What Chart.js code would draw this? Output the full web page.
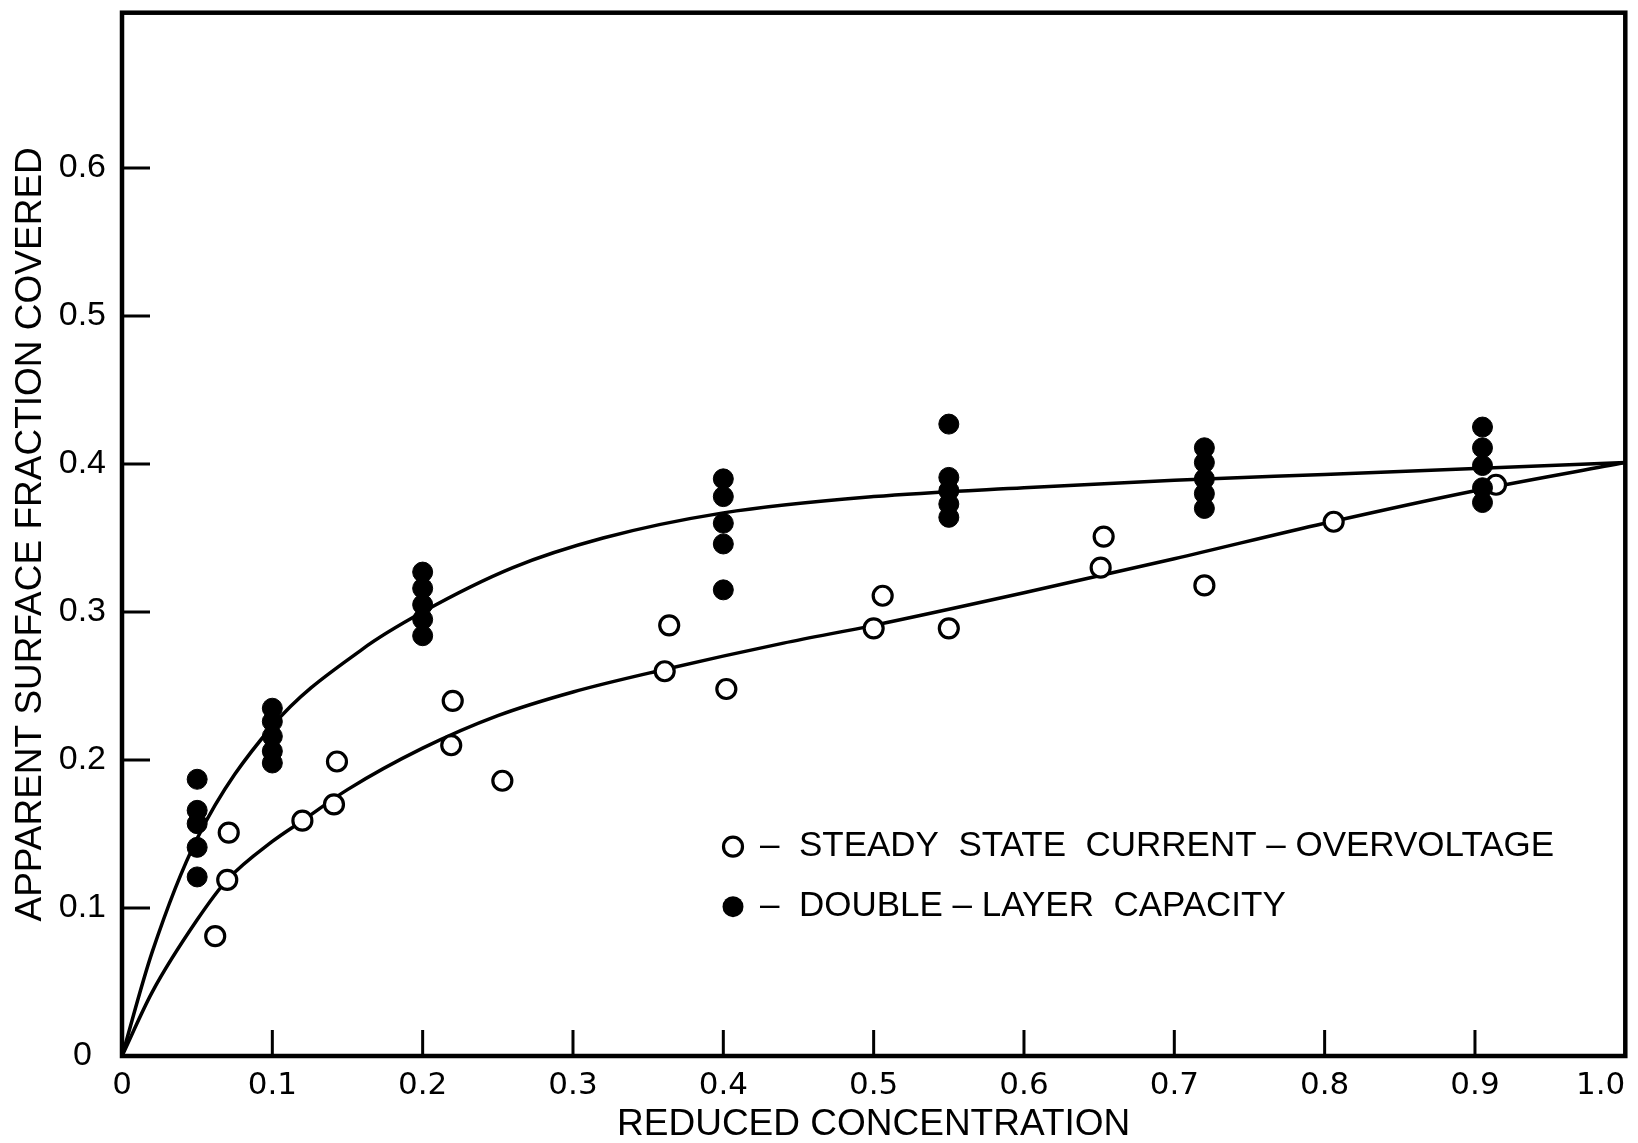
<!DOCTYPE html>
<html>
<head>
<meta charset="utf-8">
<title>Apparent surface fraction covered</title>
<script src="https://cdn.jsdelivr.net/npm/chart.js@4.4.1/dist/chart.umd.min.js"></script>
<style>
  html, body { margin: 0; padding: 0; background: #fff; }
  #wrap { width: 1638px; height: 1143px; position: relative; }
</style>
</head>
<body>
<div id="wrap"><canvas id="chart"></canvas></div>
<script>
// measured points - steady state current-overvoltage (open circles)
const openX = [0.062, 0.070, 0.071, 0.120, 0.141, 0.143, 0.219, 0.220, 0.253, 0.361, 0.364, 0.402, 0.500, 0.506, 0.550, 0.651, 0.653, 0.720, 0.806, 0.914];
const openY = [0.081, 0.119, 0.151, 0.159, 0.170, 0.199, 0.210, 0.240, 0.186, 0.260, 0.291, 0.248, 0.289, 0.311, 0.289, 0.330, 0.351, 0.318, 0.361, 0.386];

// measured points - double-layer capacity (filled circles)
const filledX = [0.05, 0.05, 0.05, 0.05, 0.05,
                 0.10, 0.10, 0.10, 0.10, 0.10,
                 0.20, 0.20, 0.20, 0.20, 0.20,
                 0.40, 0.40, 0.40, 0.40, 0.40,
                 0.55, 0.55, 0.55, 0.55, 0.55,
                 0.72, 0.72, 0.72, 0.72, 0.72,
                 0.905, 0.905, 0.905, 0.905, 0.905];
const filledY = [0.187, 0.166, 0.157, 0.141, 0.121,
                 0.235, 0.226, 0.216, 0.206, 0.198,
                 0.327, 0.316, 0.305, 0.295, 0.284,
                 0.390, 0.378, 0.360, 0.346, 0.315,
                 0.427, 0.391, 0.382, 0.373, 0.364,
                 0.411, 0.401, 0.390, 0.380, 0.370,
                 0.425, 0.411, 0.399, 0.384, 0.374];

// drawn curves
const upperCurveX = [0, 0.02, 0.05, 0.10, 0.16, 0.20, 0.26, 0.32, 0.40, 0.50, 0.60, 0.70, 0.80, 0.90, 1.0];
const upperCurveY = [0, 0.070, 0.147, 0.223, 0.275, 0.300, 0.330, 0.350, 0.367, 0.378, 0.384, 0.389, 0.393, 0.397, 0.401];
const lowerCurveX = [0, 0.02, 0.05, 0.07, 0.10, 0.12, 0.15, 0.20, 0.25, 0.30, 0.36, 0.44, 0.50, 0.60, 0.70, 0.80, 0.90, 1.0];
const lowerCurveY = [0, 0.043, 0.092, 0.119, 0.145, 0.159, 0.180, 0.208, 0.230, 0.246, 0.261, 0.279, 0.291, 0.313, 0.336, 0.360, 0.382, 0.401];

// tick labels
const xTickLabels = ['0', '0.1', '0.2', '0.3', '0.4', '0.5', '0.6', '0.7', '0.8', '0.9', '1.0'];
const yTickLabels = ['0', '0.1', '0.2', '0.3', '0.4', '0.5', '0.6', ''];

const legendLabels = ['\u2013  STEADY  STATE  CURRENT \u2013 OVERVOLTAGE', '\u2013  DOUBLE \u2013 LAYER  CAPACITY'];

function toPoints(xs, ys) {
  return xs.map((x, i) => ({ x: x, y: ys[i] }));
}

// box, inward ticks, x labels and the legend
const paperPlugin = {
  id: 'paper',
  afterDatasetsDraw(chart) {
    const { ctx, chartArea: a, scales } = chart;
    const xs = scales.x, ys = scales.y;
    ctx.save();
    ctx.strokeStyle = '#000';
    ctx.fillStyle = '#000';
    ctx.lineWidth = 4.5;
    ctx.strokeRect(a.left, a.top, a.right - a.left, a.bottom - a.top);

    ctx.lineWidth = 3;
    ctx.beginPath();
    xs.ticks.forEach(t => {
      if (t.value > 0.05 && t.value < 0.95) {
        const px = xs.getPixelForValue(t.value);
        ctx.moveTo(px, a.bottom);
        ctx.lineTo(px, a.bottom - 26);
      }
    });
    ys.ticks.forEach(t => {
      if (t.value > 0.05 && t.value < 0.65) {
        const py = ys.getPixelForValue(t.value);
        ctx.moveTo(a.left, py);
        ctx.lineTo(a.left + 28, py);
      }
    });
    ctx.stroke();

    // x tick labels, last one kept inside the frame
    ctx.font = '31px "DejaVu Sans"';
    ctx.textBaseline = 'middle';
    xs.ticks.forEach((t, i) => {
      ctx.textAlign = i === xs.ticks.length - 1 ? 'right' : 'center';
      ctx.fillText(xTickLabels[i] || '', xs.getPixelForValue(t.value), a.bottom + 30);
    });

    // legend
    const lx = a.left + 611;
    const ly = [a.top + 834, a.top + 894];
    ctx.lineWidth = 3.2;
    ctx.beginPath();
    ctx.arc(lx, ly[0], 9.5, 0, Math.PI * 2);
    ctx.stroke();
    ctx.beginPath();
    ctx.arc(lx, ly[1], 10.5, 0, Math.PI * 2);
    ctx.fill();
    ctx.font = '35px "Liberation Sans"';
    ctx.textAlign = 'left';
    ctx.fillText(legendLabels[0], lx + 27, ly[0]);
    ctx.fillText(legendLabels[1], lx + 27, ly[1]);
    ctx.restore();
  }
};

document.addEventListener('DOMContentLoaded', function () {
  const ctx = document.getElementById('chart').getContext('2d');
  new Chart(ctx, {
    type: 'scatter',
    data: {
      datasets: [
        {
          label: 'Double-layer capacity',
          data: toPoints(filledX, filledY),
          pointRadius: 10,
          pointBackgroundColor: '#000',
          pointBorderColor: '#000',
          pointBorderWidth: 1,
          order: 0
        },
        {
          label: 'Steady state current-overvoltage',
          data: toPoints(openX, openY),
          pointRadius: 9.5,
          pointBackgroundColor: '#fff',
          pointBorderColor: '#000',
          pointBorderWidth: 3.2,
          order: 1
        },
        {
          label: 'upper curve',
          data: toPoints(upperCurveX, upperCurveY),
          showLine: true,
          borderColor: '#000',
          borderWidth: 3.5,
          pointRadius: 0,
          cubicInterpolationMode: 'monotone',
          order: 2
        },
        {
          label: 'lower curve',
          data: toPoints(lowerCurveX, lowerCurveY),
          showLine: true,
          borderColor: '#000',
          borderWidth: 3.5,
          pointRadius: 0,
          cubicInterpolationMode: 'monotone',
          order: 3
        }
      ]
    },
    options: {
      responsive: true,
      maintainAspectRatio: false,
      animation: false,
      layout: { padding: { left: 0, top: 12, right: 6, bottom: 0 } },
      plugins: {
        legend: { display: false },
        tooltip: { enabled: false }
      },
      scales: {
        x: {
          type: 'linear',
          min: 0,
          max: 1,
          grid: { display: false, drawTicks: false },
          border: { display: false },
          ticks: { display: false, stepSize: 0.1 },
          title: {
            display: true,
            text: 'REDUCED CONCENTRATION',
            color: '#000',
            font: { family: 'Liberation Sans', size: 37, lineHeight: 1 },
            padding: { top: 0, bottom: 0 }
          },
          afterFit(scale) {
            scale.height = 87;
            scale.paddingLeft = 0;
            scale.paddingRight = 0;
          }
        },
        y: {
          type: 'linear',
          min: 0,
          max: 0.705,
          grid: { display: false, drawTicks: false },
          border: { display: false },
          ticks: {
            stepSize: 0.1,
            includeBounds: false,
            crossAlign: 'center',
            padding: 16,
            color: '#000',
            font: { family: 'Liberation Sans', size: 34 },
            callback: (v, i) => yTickLabels[i] || ''
          },
          title: {
            display: true,
            text: 'APPARENT SURFACE FRACTION COVERED',
            color: '#000',
            font: { family: 'Liberation Sans', size: 37 },
            padding: { top: 9, bottom: 0 }
          },
          afterFit(scale) {
            scale.width = 122;
            scale.paddingTop = 0;
            scale.paddingBottom = 0;
          }
        }
      }
    },
    plugins: [paperPlugin]
  });
});
</script>
</body>
</html>
